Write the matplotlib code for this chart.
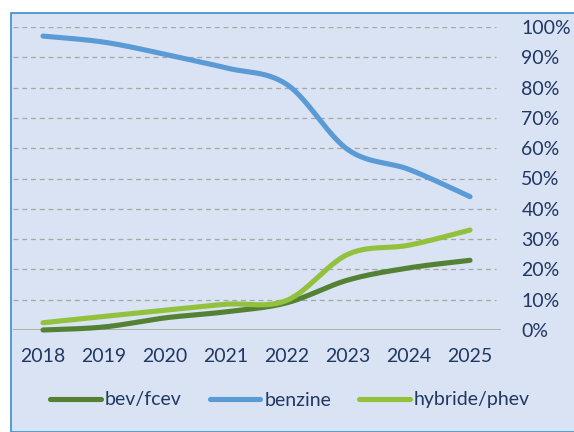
import numpy as np
import matplotlib
matplotlib.use("Agg")
import matplotlib.pyplot as plt
from matplotlib.patches import Rectangle
from matplotlib.ticker import PercentFormatter

years = ["2018", "2019", "2020", "2021", "2022", "2023", "2024", "2025"]
bev_fcev = [0.0, 1.0, 4.0, 6.0, 9.0, 16.5, 20.5, 23.0]
benzine = [97.0, 95.0, 91.0, 86.5, 81.0, 59.5, 53.0, 44.0]
hybride_phev = [2.4, 4.5, 6.5, 8.5, 9.8, 25.0, 28.0, 33.0]

series_names = ["bev/fcev", "benzine", "hybride/phev"]
series_colors = ["#548235", "#5B9BD5", "#92C13E"]

W, H = 574, 432
plt.rcParams['font.family'] = ['Lato', 'DejaVu Sans']
text_color = "#203864"
bg = "#DAE3F3"


def smooth(xs, ys, n=30):
    xs = np.asarray(xs, float)
    ys = np.asarray(ys, float)
    px = np.concatenate([[xs[0]], xs, [xs[-1]]])
    py = np.concatenate([[ys[0]], ys, [ys[-1]]])
    ox, oy = [], []
    t = np.linspace(0, 1, n)
    for i in range(1, len(px) - 2):
        p0x, p1x, p2x, p3x = px[i - 1], px[i], px[i + 1], px[i + 2]
        p0y, p1y, p2y, p3y = py[i - 1], py[i], py[i + 1], py[i + 2]
        c1x = p1x + (p2x - p0x) / 6
        c1y = p1y + (p2y - p0y) / 6
        c2x = p2x - (p3x - p1x) / 6
        c2y = p2y - (p3y - p1y) / 6
        bx = (1 - t) ** 3 * p1x + 3 * (1 - t) ** 2 * t * c1x + 3 * (1 - t) * t ** 2 * c2x + t ** 3 * p2x
        by = (1 - t) ** 3 * p1y + 3 * (1 - t) ** 2 * t * c1y + 3 * (1 - t) * t ** 2 * c2y + t ** 3 * p2y
        ox.extend(bx)
        oy.extend(by)
    return np.array(ox), np.array(oy)


fig = plt.figure(figsize=(W / 100, H / 100), dpi=100)
fig.patch.set_facecolor("white")
fig.patches.append(Rectangle((11 / W, 0), 1, 1 - 13 / H, transform=fig.transFigure,
                             facecolor=bg, edgecolor="#3A8FCB", linewidth=1.2, zorder=-5))

ax_l, ax_r = 12.5, 500.5
ax_b, ax_t = 330, 27
ax = fig.add_axes([ax_l / W, 1 - ax_b / H, (ax_r - ax_l) / W, (ax_b - ax_t) / H])
ax.set_facecolor("none")
ax.set_zorder(2)

x = np.arange(len(years))
for name, vals, col in zip(series_names, [bev_fcev, benzine, hybride_phev], series_colors):
    sx, sy = smooth(x, vals)
    ax.plot(sx, sy, color=col, linewidth=3.7, solid_capstyle="round", label=name,
            clip_on=False, zorder=3)

ax.set_xlim(-0.5, len(years) - 0.5)
ax.set_ylim(0, 100)
ax.set_yticks(np.arange(0, 101, 10))
ax.yaxis.set_major_formatter(PercentFormatter(decimals=0))
ax.set_xticks(x)
ax.set_xticklabels(years)
for s in ax.spines.values():
    s.set_visible(False)
ax.yaxis.tick_right()
ax.tick_params(axis="y", length=0, pad=15, labelsize=14, labelcolor=text_color)
ax.tick_params(axis="x", length=0, pad=13, labelsize=14, labelcolor=text_color)
for lab in ax.get_yticklabels():
    lab.set_horizontalalignment("left")
for v in np.arange(10, 101, 10):
    ax.axhline(v, color="#A6A6A6", linewidth=0.9, linestyle=(0, (4, 3)), xmax=0.99, zorder=1)
ax.axhline(0, color="#A6A6A6", linewidth=1.2, zorder=1)

handles, labels = ax.get_legend_handles_labels()
leg = fig.legend(handles, labels, loc="center", bbox_to_anchor=(290 / W, 1 - 400 / H),
                 ncol=3, frameon=False, fontsize=14, handlelength=2.6, handletextpad=0.2,
                 columnspacing=1.45, labelcolor=text_color)

fig.savefig("out.png", dpi=100)
